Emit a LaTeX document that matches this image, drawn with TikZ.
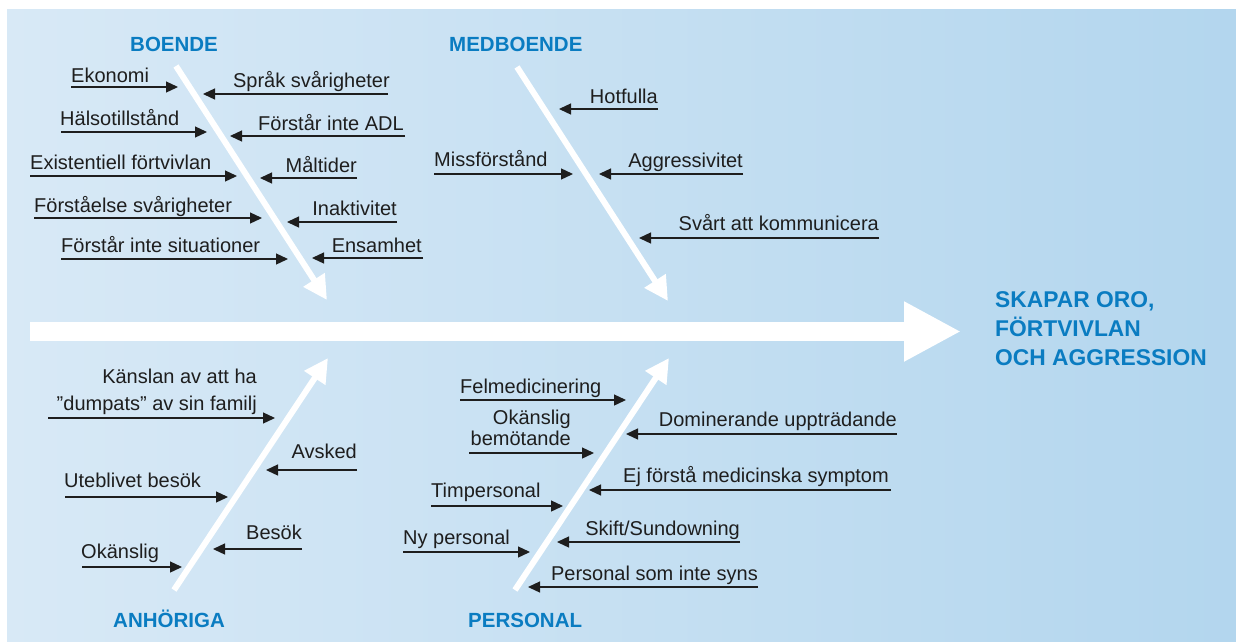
\documentclass[tikz,border=0pt]{standalone}
\usepackage{fontspec}
\setmainfont{Liberation Sans}
\usetikzlibrary{arrows.meta}
\definecolor{bgL}{HTML}{D8E9F6}
\definecolor{bgR}{HTML}{B3D6EE}
\definecolor{headblue}{HTML}{0A7CC1}
\definecolor{txt}{HTML}{1E1E1E}
\begin{document}
\begin{tikzpicture}[x=1pt,y=-1pt,
  lbl/.style={inner sep=0pt, text=txt, font=\fontsize{20}{24}\selectfont},
  head/.style={inner sep=0pt, text=headblue, font=\fontsize{20.5}{24}\selectfont\bfseries},
  effect/.style={inner sep=0pt, text=headblue, align=left, font=\fontsize{22.8}{29}\selectfont\bfseries},
  cause/.style={draw=txt, line width=1.3pt, -{Triangle[length=12pt,width=11pt]}},
  bone/.style={draw=white, line width=6pt, -{Triangle[length=24pt,width=24pt]}},
  spine/.style={draw=white, line width=19pt, -{Triangle[length=57pt,width=56pt]}},
]
\useasboundingbox (0,0) rectangle (1236,643);
\shade[left color=bgL, right color=bgR] (7,9) rectangle (1236,641);

% spine
\coordinate (spS) at (30,331.5);
\coordinate (spE) at (961,331.5);
\draw[spine] (spS) -- (spE);
\node[effect, anchor=base west] (effect) at (995,365) {SKAPAR ORO,\\FÖRTVIVLAN\\OCH AGGRESSION};

% bones
\coordinate (b1s) at (176,66);  \coordinate (b1e) at (327,300);
\coordinate (b2s) at (517,67);  \coordinate (b2e) at (668,301);
\coordinate (b3s) at (174,590); \coordinate (b3e) at (328,358);
\coordinate (b4s) at (515,590); \coordinate (b4e) at (669,358);
\draw[bone] (b1s) -- (b1e);
\draw[bone] (b2s) -- (b2e);
\draw[bone] (b3s) -- (b3e);
\draw[bone] (b4s) -- (b4e);

\node[head, anchor=base west] (hBoende) at (130,51) {BOENDE};
\node[head, anchor=base west] (hMed) at (449,51) {MEDBOENDE};
\node[head, anchor=base west] (hAnh) at (113,627) {ANHÖRIGA};
\node[head, anchor=base west] (hPers) at (468,627) {PERSONAL};

% BOENDE
\coordinate (a1s) at (71,87);   \coordinate (a1e) at (178,87);
\node[lbl, anchor=base west] (a1) at (71,82) {Ekonomi};
\draw[cause] (a1s) -- (a1e);
\coordinate (a2s) at (61,132);  \coordinate (a2e) at (207,132);
\node[lbl, anchor=base west] (a2) at (60,125) {Hälsotillstånd};
\draw[cause] (a2s) -- (a2e);
\coordinate (a3s) at (30,176);  \coordinate (a3e) at (237,176);
\node[lbl, anchor=base west] (a3) at (30,169) {Existentiell förtvivlan};
\draw[cause] (a3s) -- (a3e);
\coordinate (a4s) at (34,218);  \coordinate (a4e) at (262,218);
\node[lbl, anchor=base west] (a4) at (34,212) {Förståelse svårigheter};
\draw[cause] (a4s) -- (a4e);
\coordinate (a5s) at (61,259);  \coordinate (a5e) at (288,259);
\node[lbl, anchor=base west] (a5) at (61,252) {Förstår inte situationer};
\draw[cause] (a5s) -- (a5e);

\coordinate (a6s) at (388,94);  \coordinate (a6e) at (203,94);
\node[lbl, anchor=base east] (a6) at (390,87) {Språk svårigheter};
\draw[cause] (a6s) -- (a6e);
\coordinate (a7s) at (405,136); \coordinate (a7e) at (230,136);
\node[lbl, anchor=base east] (a7) at (404,130) {Förstår inte ADL};
\draw[cause] (a7s) -- (a7e);
\coordinate (a8s) at (357,178); \coordinate (a8e) at (260,178);
\node[lbl, anchor=base east] (a8) at (357,172) {Måltider};
\draw[cause] (a8s) -- (a8e);
\coordinate (a9s) at (397,222); \coordinate (a9e) at (287,222);
\node[lbl, anchor=base east] (a9) at (397,215) {Inaktivitet};
\draw[cause] (a9s) -- (a9e);
\coordinate (a10s) at (423,258); \coordinate (a10e) at (312,258);
\node[lbl, anchor=base east] (a10) at (422,252) {Ensamhet};
\draw[cause] (a10s) -- (a10e);

% MEDBOENDE
\coordinate (m1s) at (658,109); \coordinate (m1e) at (559,109);
\node[lbl, anchor=base east] (m1) at (658,103) {Hotfulla};
\draw[cause] (m1s) -- (m1e);
\coordinate (m2s) at (434,174); \coordinate (m2e) at (573,174);
\node[lbl, anchor=base west] (m2) at (434,166) {Missförstånd};
\draw[cause] (m2s) -- (m2e);
\coordinate (m3s) at (743,174); \coordinate (m3e) at (599,174);
\node[lbl, anchor=base east] (m3) at (743,167) {Aggressivitet};
\draw[cause] (m3s) -- (m3e);
\coordinate (m4s) at (879,238); \coordinate (m4e) at (639,238);
\node[lbl, anchor=base east] (m4) at (879,230) {Svårt att kommunicera};
\draw[cause] (m4s) -- (m4e);

% ANHÖRIGA
\coordinate (h1s) at (48,418); \coordinate (h1e) at (275,418);
\node[lbl, anchor=base east, align=right, font=\fontsize{20}{27}\selectfont] (h1) at (257,410) {Känslan av att ha\\”dumpats” av sin familj};
\draw[cause] (h1s) -- (h1e);
\coordinate (h2s) at (357,470); \coordinate (h2e) at (266,470);
\node[lbl, anchor=base east] (h2) at (357,458) {Avsked};
\draw[cause] (h2s) -- (h2e);
\coordinate (h3s) at (65,497); \coordinate (h3e) at (228,497);
\node[lbl, anchor=base west] (h3) at (64,487) {Uteblivet besök};
\draw[cause] (h3s) -- (h3e);
\coordinate (h4s) at (302,549); \coordinate (h4e) at (213,549);
\node[lbl, anchor=base east] (h4) at (302,539) {Besök};
\draw[cause] (h4s) -- (h4e);
\coordinate (h5s) at (82,567); \coordinate (h5e) at (182,567);
\node[lbl, anchor=base west] (h5) at (81,558) {Okänslig};
\draw[cause] (h5s) -- (h5e);

% PERSONAL
\coordinate (p1s) at (460,400); \coordinate (p1e) at (626,400);
\node[lbl, anchor=base west] (p1) at (460,393) {Felmedicinering};
\draw[cause] (p1s) -- (p1e);
\coordinate (p2s) at (469,453); \coordinate (p2e) at (594,453);
\node[lbl, anchor=base east, align=right, font=\fontsize{20}{21}\selectfont] (p2) at (571,445) {Okänslig\\bemötande};
\draw[cause] (p2s) -- (p2e);
\coordinate (p3s) at (897,434); \coordinate (p3e) at (626,434);
\node[lbl, anchor=base east] (p3) at (897,426) {Dominerande uppträdande};
\draw[cause] (p3s) -- (p3e);
\coordinate (p4s) at (891,490); \coordinate (p4e) at (589,490);
\node[lbl, anchor=base east] (p4) at (889,482) {Ej förstå medicinska symptom};
\draw[cause] (p4s) -- (p4e);
\coordinate (p5s) at (431,506); \coordinate (p5e) at (563,506);
\node[lbl, anchor=base west] (p5) at (431,497) {Timpersonal};
\draw[cause] (p5s) -- (p5e);
\coordinate (p6s) at (740,542); \coordinate (p6e) at (557,542);
\node[lbl, anchor=base east] (p6) at (740,535) {Skift/Sundowning};
\draw[cause] (p6s) -- (p6e);
\coordinate (p7s) at (403,552); \coordinate (p7e) at (530,552);
\node[lbl, anchor=base west] (p7) at (403,544) {Ny personal};
\draw[cause] (p7s) -- (p7e);
\coordinate (p8s) at (758,587); \coordinate (p8e) at (528,587);
\node[lbl, anchor=base east] (p8) at (758,580) {Personal som inte syns};
\draw[cause] (p8s) -- (p8e);
\end{tikzpicture}
\end{document}
